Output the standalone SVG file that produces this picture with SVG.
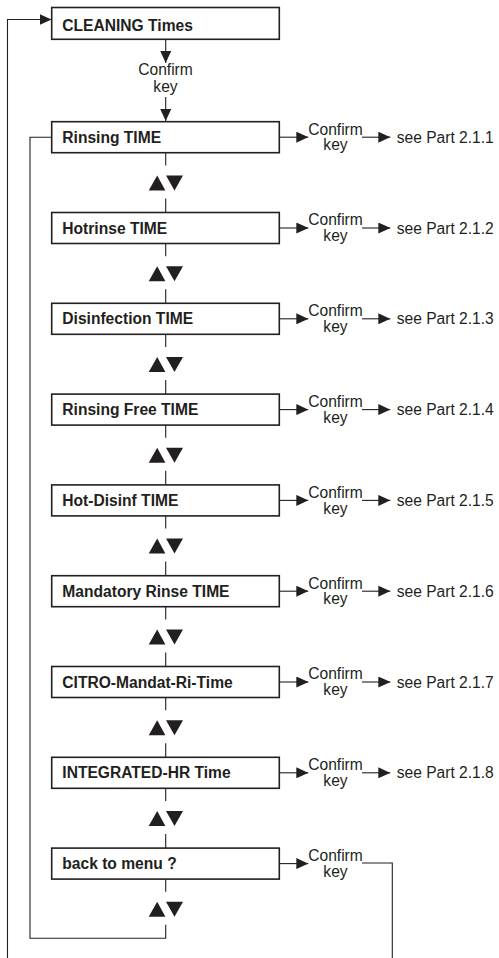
<svg xmlns="http://www.w3.org/2000/svg" width="499" height="958" viewBox="0 0 499 958">
<style>
.box{fill:#fff;stroke:#231f20;stroke-width:1.6}
.ln{fill:none;stroke:#231f20;stroke-width:1.1}
.tri{fill:#231f20}
.bt{font-family:"Liberation Sans",Arial,sans-serif;font-weight:bold;font-size:15.6px;fill:#231f20}
.rt{font-family:"Liberation Sans",Arial,sans-serif;font-size:15.6px;fill:#231f20}
.mid{text-anchor:middle}
</style>
<defs>
<marker id="ah" markerWidth="12" markerHeight="11" refX="12" refY="5.5" orient="auto" markerUnits="userSpaceOnUse">
<path d="M0,0 L12,5.5 L0,11 Z" fill="#231f20"/>
</marker>
<g id="ud">
<path d="M-17,15 L-8.5,0 L-0.3,15 Z" class="tri"/>
<path d="M0.3,0 L17.3,0 L8.8,15 Z" class="tri"/>
</g>
</defs>
<g id="connectors">
<path class="ln" d="M7.5,958 L7.5,19.5 L51.5,19.5" marker-end="url(#ah)"/>
<path class="ln" d="M165.7,39.5 L165.7,63" marker-end="url(#ah)"/>
<path class="ln" d="M165.7,97 L165.7,121" marker-end="url(#ah)"/>
<path class="ln" d="M165.7,879.1 L165.7,891.8 M165.7,924.8 L165.7,938.3 L30,938.3 L30,137.3 L51.7,137.3"/>
<g id="vlinks">
<path class="ln" d="M165.7,152.7 V165.4 M165.7,198.4 V212.5"/>
<path class="ln" d="M165.7,243.5 V256.2 M165.7,289.2 V303.3"/>
<path class="ln" d="M165.7,334.3 V347 M165.7,380 V394.1"/>
<path class="ln" d="M165.7,425.1 V437.8 M165.7,470.8 V484.9"/>
<path class="ln" d="M165.7,515.9 V528.6 M165.7,561.6 V575.7"/>
<path class="ln" d="M165.7,606.7 V619.4 M165.7,652.4 V666.5"/>
<path class="ln" d="M165.7,697.5 V710.2 M165.7,743.2 V757.3"/>
<path class="ln" d="M165.7,788.3 V801 M165.7,834 V848.1"/>
</g>
<g id="updown">
<use href="#ud" x="165.7" y="175.4"/>
<use href="#ud" x="165.7" y="266.2"/>
<use href="#ud" x="165.7" y="357"/>
<use href="#ud" x="165.7" y="447.8"/>
<use href="#ud" x="165.7" y="538.6"/>
<use href="#ud" x="165.7" y="629.4"/>
<use href="#ud" x="165.7" y="720.2"/>
<use href="#ud" x="165.7" y="811"/>
<use href="#ud" x="165.7" y="901.8"/>
</g>
<g id="right">
<path class="ln" d="M279.5,137.2 H308.3" marker-end="url(#ah)"/>
<path class="ln" d="M362,137.2 H390.3" marker-end="url(#ah)"/>
<path class="ln" d="M279.5,228 H308.3" marker-end="url(#ah)"/>
<path class="ln" d="M362,228 H390.3" marker-end="url(#ah)"/>
<path class="ln" d="M279.5,318.8 H308.3" marker-end="url(#ah)"/>
<path class="ln" d="M362,318.8 H390.3" marker-end="url(#ah)"/>
<path class="ln" d="M279.5,409.6 H308.3" marker-end="url(#ah)"/>
<path class="ln" d="M362,409.6 H390.3" marker-end="url(#ah)"/>
<path class="ln" d="M279.5,500.4 H308.3" marker-end="url(#ah)"/>
<path class="ln" d="M362,500.4 H390.3" marker-end="url(#ah)"/>
<path class="ln" d="M279.5,591.2 H308.3" marker-end="url(#ah)"/>
<path class="ln" d="M362,591.2 H390.3" marker-end="url(#ah)"/>
<path class="ln" d="M279.5,682 H308.3" marker-end="url(#ah)"/>
<path class="ln" d="M362,682 H390.3" marker-end="url(#ah)"/>
<path class="ln" d="M279.5,772.8 H308.3" marker-end="url(#ah)"/>
<path class="ln" d="M362,772.8 H390.3" marker-end="url(#ah)"/>
<path class="ln" d="M279.5,863.6 H308.3" marker-end="url(#ah)"/>
<path class="ln" d="M362,863 H392.3 V958"/>
</g>
</g>
<g id="n0"><rect class="box" x="51.7" y="7.5" width="227.6" height="31.8"/><text class="bt" x="62.3" y="30.5">CLEANING Times</text></g>
<g id="ck0"><text class="rt mid" x="165.5" y="75">Confirm</text><text class="rt mid" x="165.5" y="91.5">key</text></g>
<g id="n1"><rect class="box" x="51.7" y="121.7" width="227.6" height="31"/><text class="bt" x="62.3" y="142.8">Rinsing TIME</text></g>
<g id="n2"><rect class="box" x="51.7" y="212.5" width="227.6" height="31"/><text class="bt" x="62.3" y="233.6">Hotrinse TIME</text></g>
<g id="n3"><rect class="box" x="51.7" y="303.3" width="227.6" height="31"/><text class="bt" x="62.3" y="324.4">Disinfection TIME</text></g>
<g id="n4"><rect class="box" x="51.7" y="394.1" width="227.6" height="31"/><text class="bt" x="62.3" y="415.2">Rinsing Free TIME</text></g>
<g id="n5"><rect class="box" x="51.7" y="484.9" width="227.6" height="31"/><text class="bt" x="62.3" y="506">Hot-Disinf TIME</text></g>
<g id="n6"><rect class="box" x="51.7" y="575.7" width="227.6" height="31"/><text class="bt" x="62.3" y="596.8">Mandatory Rinse TIME</text></g>
<g id="n7"><rect class="box" x="51.7" y="666.5" width="227.6" height="31"/><text class="bt" x="62.3" y="687.6">CITRO-Mandat-Ri-Time</text></g>
<g id="n8"><rect class="box" x="51.7" y="757.3" width="227.6" height="31"/><text class="bt" x="62.3" y="778.4">INTEGRATED-HR Time</text></g>
<g id="n9"><rect class="box" x="51.7" y="848.1" width="227.6" height="31"/><text class="bt" x="62.3" y="869.2">back to menu ?</text></g>
<g id="labels">
<text class="rt mid" x="335.5" y="134.6">Confirm</text><text class="rt mid" x="335.5" y="150.4">key</text><text class="rt" x="396.7" y="142.7">see Part 2.1.1</text>
<text class="rt mid" x="335.5" y="225.4">Confirm</text><text class="rt mid" x="335.5" y="241.2">key</text><text class="rt" x="396.7" y="233.5">see Part 2.1.2</text>
<text class="rt mid" x="335.5" y="316.2">Confirm</text><text class="rt mid" x="335.5" y="332">key</text><text class="rt" x="396.7" y="324.3">see Part 2.1.3</text>
<text class="rt mid" x="335.5" y="407">Confirm</text><text class="rt mid" x="335.5" y="422.8">key</text><text class="rt" x="396.7" y="415.1">see Part 2.1.4</text>
<text class="rt mid" x="335.5" y="497.8">Confirm</text><text class="rt mid" x="335.5" y="513.6">key</text><text class="rt" x="396.7" y="505.9">see Part 2.1.5</text>
<text class="rt mid" x="335.5" y="588.6">Confirm</text><text class="rt mid" x="335.5" y="604.4">key</text><text class="rt" x="396.7" y="596.7">see Part 2.1.6</text>
<text class="rt mid" x="335.5" y="679.4">Confirm</text><text class="rt mid" x="335.5" y="695.2">key</text><text class="rt" x="396.7" y="687.5">see Part 2.1.7</text>
<text class="rt mid" x="335.5" y="770.2">Confirm</text><text class="rt mid" x="335.5" y="786">key</text><text class="rt" x="396.7" y="778.3">see Part 2.1.8</text>
<text class="rt mid" x="335.5" y="861">Confirm</text><text class="rt mid" x="335.5" y="876.8">key</text>
</g>
</svg>
